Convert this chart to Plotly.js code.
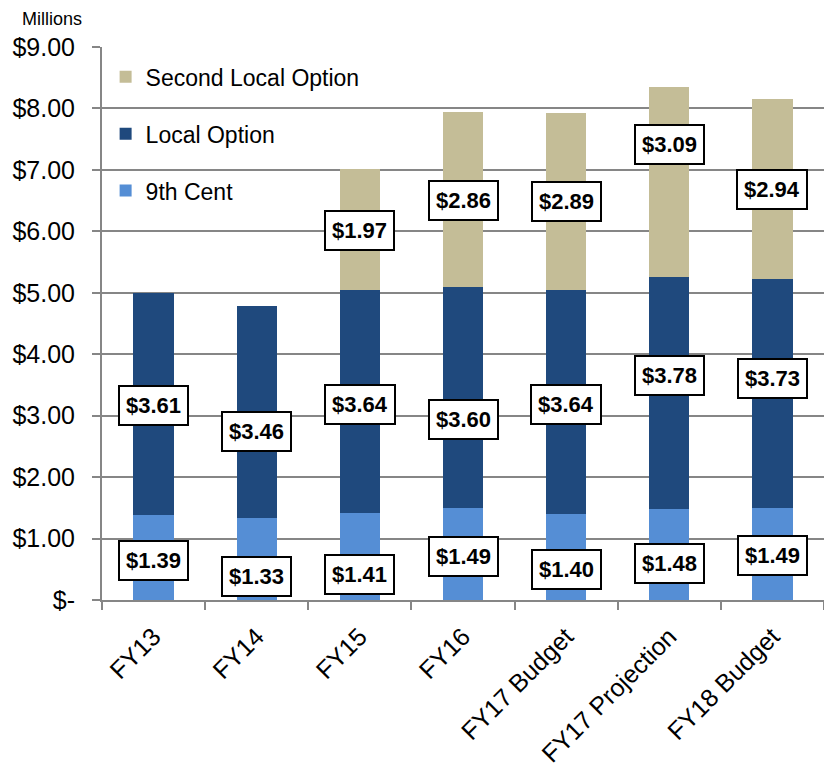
<!DOCTYPE html>
<html>
<head>
<meta charset="utf-8">
<script src="https://cdn.plot.ly/plotly-3.0.1.min.js"></script>
<style>html,body{margin:0;padding:0;background:#fff;}#chart{width:824px;height:775px;}</style>
</head>
<body>
<div id="chart"></div>
<script>
const categories = ["FY13", "FY14", "FY15", "FY16", "FY17 Budget", "FY17 Projection", "FY18 Budget"];
const ninthCent = [1.39, 1.33, 1.41, 1.49, 1.40, 1.48, 1.49];
const localOption = [3.61, 3.46, 3.64, 3.60, 3.64, 3.78, 3.73];
const secondLocalOption = [null, null, 1.97, 2.86, 2.89, 3.09, 2.94];
const yTickValues = [0, 1, 2, 3, 4, 5, 6, 7, 8, 9];
const yTickLabels = ["$-", "$1.00", "$2.00", "$3.00", "$4.00", "$5.00", "$6.00", "$7.00", "$8.00", "$9.00"];
// label anchor heights (where each data label box sits)
const ninthLabelY = [0.64, 0.39, 0.42, 0.70, 0.49, 0.59, 0.72];
const localLabelY = [3.17, 2.74, 3.18, 2.93, 3.18, 3.65, 3.60];
const secondLabelY = [null, null, 6.02, 6.50, 6.48, 7.41, 6.68];

const colors = {ninth: "#558ED5", local: "#1F497D", second: "#C4BD97"};
const FONT = "Liberation Sans, Arial, sans-serif";

const traces = [
  {type: "bar", name: "9th Cent", x: categories, y: ninthCent, marker: {color: colors.ninth}, width: 0.39, legendgroup: "g3", legendrank: 3, hoverinfo: "none"},
  {type: "bar", name: "Local Option", x: categories, y: localOption, marker: {color: colors.local}, width: 0.39, legendgroup: "g2", legendrank: 2, hoverinfo: "none"},
  {type: "bar", name: "Second Local Option", x: categories, y: secondLocalOption, marker: {color: colors.second}, width: 0.39, legendgroup: "g1", legendrank: 1, hoverinfo: "none"}
];

const annotations = [];
function addLabels(vals, ys) {
  vals.forEach((v, i) => {
    if (v === null) return;
    annotations.push({
      x: categories[i], y: ys[i], xref: "x", yref: "y",
      text: "$" + v.toFixed(2), showarrow: false,
      font: {family: FONT, size: 22, color: "#000", weight: "bold"},
      bgcolor: "#fff", bordercolor: "#000", borderwidth: 2, borderpad: 6
    });
  });
}
addLabels(ninthCent, ninthLabelY);
addLabels(localOption, localLabelY);
addLabels(secondLocalOption, secondLabelY);
annotations.push({
  xref: "paper", yref: "paper", x: -0.114, y: 1.0, yanchor: "bottom", xanchor: "left", yshift: 16,
  text: "Millions", showarrow: false, font: {family: FONT, size: 18, color: "#000"}
});

const layout = {
  width: 824, height: 775,
  margin: {l: 102, r: 0, t: 47, b: 175},
  barmode: "stack",
  paper_bgcolor: "#fff", plot_bgcolor: "#fff",
  showlegend: true,
  legend: {
    x: 0.005, y: 0.985, xanchor: "left", yanchor: "top",
    traceorder: "grouped", tracegroupgap: 24,
    font: {family: FONT, size: 23, color: "#000"},
    bgcolor: "rgba(0,0,0,0)"
  },
  xaxis: {
    type: "category", range: [-0.5, 6.5],
    showline: true, linecolor: "#868686", linewidth: 2,
    ticks: "outside", tickson: "boundaries", ticklen: 8, tickcolor: "#868686", tickwidth: 2,
    tickangle: -45, tickfont: {family: FONT, size: 25, color: "#000"},
    ticklabelstandoff: 10,
    showgrid: false
  },
  yaxis: {
    range: [0, 9], tickvals: yTickValues, ticktext: yTickLabels,
    showline: true, linecolor: "#868686", linewidth: 2,
    ticks: "outside", ticklen: 8, tickcolor: "#868686", tickwidth: 2,
    tickfont: {family: FONT, size: 25, color: "#000"},
    ticklabelstandoff: 12,
    showgrid: true, gridcolor: "#868686", gridwidth: 2,
    zeroline: false
  },
  annotations: annotations
};

Plotly.newPlot("chart", traces, layout, {displayModeBar: false, staticPlot: true});
</script>
</body>
</html>
